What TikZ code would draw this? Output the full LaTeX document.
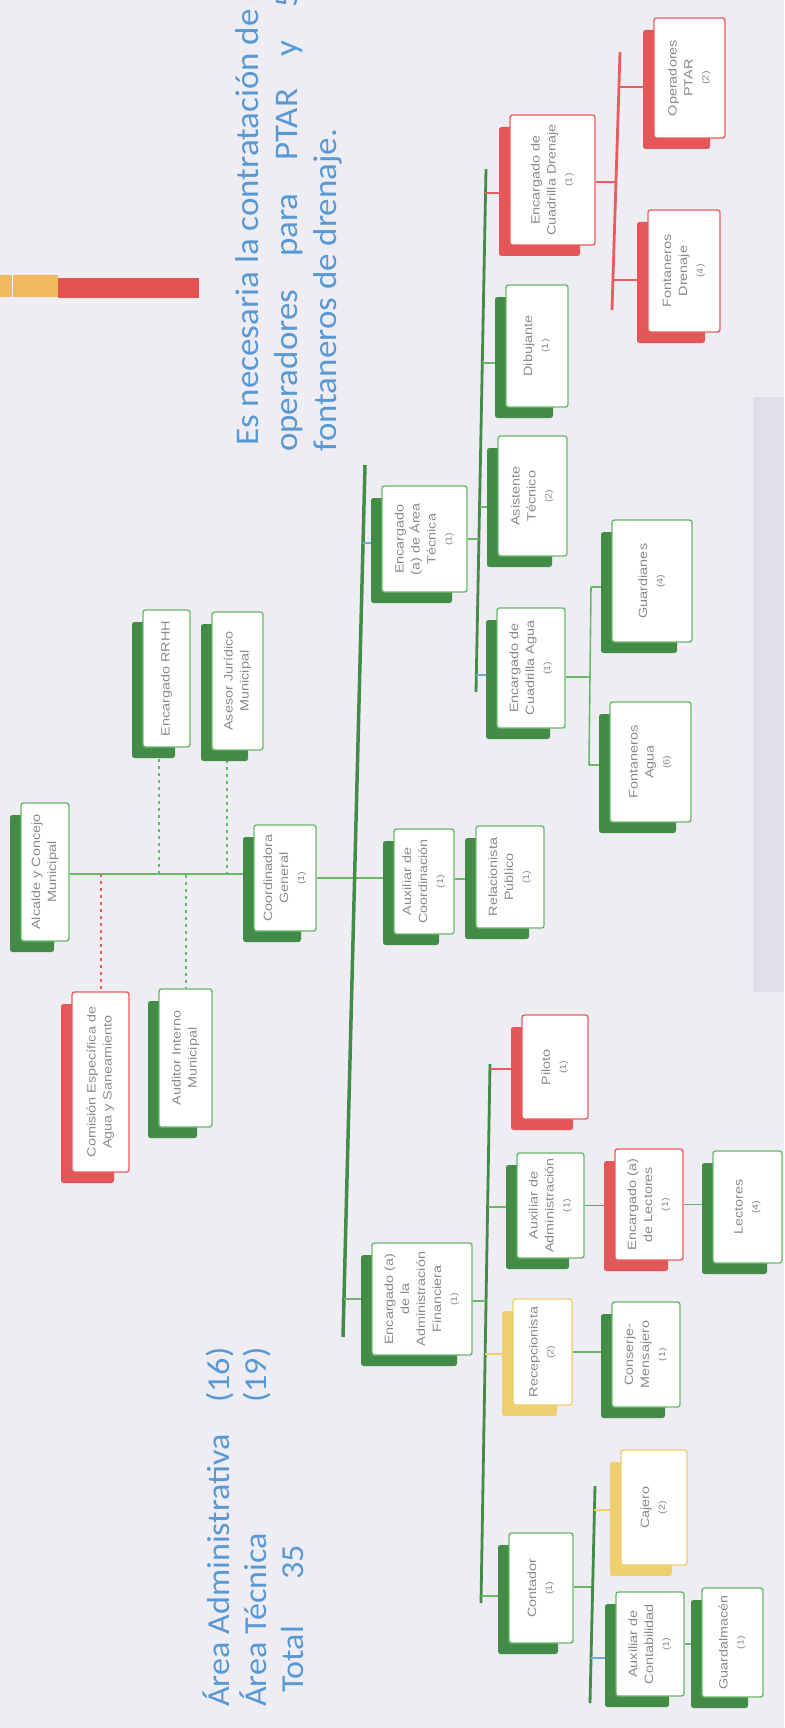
\documentclass[tikz,border=0pt]{standalone}
\usepackage{fontspec}
\setmainfont{Liberation Sans}
\newfontfamily\carl{Carlito}
\definecolor{bg}{RGB}{239,237,244}
\definecolor{gshadow}{RGB}{66,140,72}
\definecolor{gline}{RGB}{104,184,104}
\definecolor{rshadow}{RGB}{228,86,88}
\definecolor{rline}{RGB}{232,92,94}
\definecolor{yshadow}{RGB}{238,208,112}
\definecolor{yline}{RGB}{238,206,104}
\definecolor{txtgray}{RGB}{138,138,138}
\definecolor{bluetxt}{RGB}{88,152,212}
\definecolor{blink}{RGB}{110,170,220}
\definecolor{orangebar}{RGB}{240,186,96}
\definecolor{redbar}{RGB}{228,82,84}
\definecolor{grayband}{RGB}{224,223,231}
\pgfdeclarelayer{bottom}
\pgfdeclarelayer{lines}
\pgfsetlayers{bottom,lines,main}
\newlength\lw
\newcommand\rsa[1]{\scalebox{1.06}[1]{#1}}
\newcommand\rsb[1]{\scalebox{1.066}[1]{#1}}
\newcommand\bt[1]{\rotatebox{90}{\scalebox{1.2}[1]{\begin{tabular}{@{}c@{}}#1\end{tabular}}}}
\newcommand\nm[1]{{\fontsize{9}{12}\selectfont #1}}
\newcommand\obox[7]{%
  \fill[#6shadow, rounded corners=2.5pt] (#2-11,#3+12) rectangle (#4-15,#5+11);
  \node[front, draw=#6line, minimum width={(#4-#2)*1pt}, minimum height={(#5-#3)*1pt}]
    (#1) at ({(#2+#4)/2},{(#3+#5)/2}) {\bt{#7}};
}
\tikzset{
  front/.style={fill=white, rounded corners=2.5pt, line width=1.4pt, inner sep=0pt, text=txtgray, font=\fontsize{12}{16}\selectfont},
  mainln/.style={draw=gshadow, line width=3.5pt},
  subln/.style={draw=gshadow, line width=2.8pt},
  redln/.style={draw=rline, line width=2.8pt},
  glink/.style={draw=gline, line width=1.6pt},
  rlink/.style={draw=rline, line width=1.6pt},
  ylink/.style={draw=yline, line width=1.6pt},
  bllink/.style={draw=blink, line width=1.6pt},
  gdash/.style={draw=gline, line width=1.6pt, dash pattern=on 3pt off 4pt},
  rdash/.style={draw=rline, line width=1.6pt, dash pattern=on 3pt off 4pt},
  bluet/.style={rotate=90, inner sep=0pt, text=bluetxt, font=\carl\fontsize{33}{38}\selectfont},
  bluec/.style={rotate=90, inner sep=0pt, text=bluetxt, font=\carl\fontsize{32}{37}\selectfont}
}
\begin{document}
\begin{tikzpicture}[x=1pt,y=-1pt]
\useasboundingbox (0,0) rectangle (784,1728);
\begin{pgfonlayer}{bottom}
  \fill[bg] (0,0) rectangle (784,1728);
  \fill[grayband] (753,397) rectangle (784,992);
  \fill[orangebar] (0,275) rectangle (58,297);
  \fill[redbar] (58,278) rectangle (199,298);
  \draw[white, line width=1pt] (12,275) -- (12,297);
\end{pgfonlayer}

% boxes
\obox{alc}{21}{803}{69}{941}{g}{Alcalde y Concejo\\Municipal}
\obox{rrhh}{143}{610}{190}{747}{g}{Encargado RRHH}
\obox{ases}{212}{612}{263}{750}{g}{Asesor Jurídico\\Municipal}
\obox{com}{72}{992}{129}{1172}{r}{Comisión Específica de\\Agua y Saneamiento}
\obox{aud}{159}{989}{212}{1127}{g}{Auditor Interno\\Municipal}
\obox{coord}{254}{825}{316}{931}{g}{Coordinadora\\General\\\nm{(1)}}
\obox{auxc}{394}{829}{454}{934}{g}{Auxiliar de\\Coordinación\\\nm{(1)}}
\obox{rel}{476}{826}{544}{928}{g}{Relacionista\\Público\\\nm{(1)}}
\obox{tec}{382}{486}{467}{592}{g}{Encargado\\(a) de Área\\Técnica\\\nm{(1)}}
\obox{asis}{498}{436}{567}{556}{g}{Asistente\\Técnico\\\nm{(2)}}
\obox{agua}{497}{608}{565}{728}{g}{Encargado de\\Cuadrilla Agua\\\nm{(1)}}
\obox{guard}{612}{520}{692}{642}{g}{Guardianes\\\nm{(4)}}
\obox{fagua}{610}{702}{691}{822}{g}{Fontaneros\\Agua\\\nm{(6)}}
\obox{dib}{506}{285}{568}{407}{g}{Dibujante\\\nm{(1)}}
\obox{dren}{510}{115}{595}{245}{r}{Encargado de\\Cuadrilla Drenaje\\\nm{(1)}}
\obox{ptar}{654}{18}{725}{138}{r}{Operadores\\PTAR\\\nm{(2)}}
\obox{fdren}{648}{210}{720}{332}{r}{Fontaneros\\Drenaje\\\nm{(4)}}
\obox{fin}{372}{1243}{472}{1355}{g}{Encargado (a)\\de la\\Administración\\Financiera\\\nm{(1)}}
\obox{pil}{522}{1015}{588}{1119}{r}{Piloto\\\nm{(1)}}
\obox{auxa}{517}{1153}{584}{1258}{g}{Auxiliar de\\Administración\\\nm{(1)}}
\obox{lect1}{615}{1149}{683}{1260}{r}{Encargado (a)\\de Lectores\\\nm{(1)}}
\obox{lect}{713}{1151}{782}{1263}{g}{Lectores\\\nm{(4)}}
\obox{recep}{513}{1299}{572}{1405}{y}{Recepcionista\\\nm{(2)}}
\obox{cons}{612}{1302}{680}{1407}{g}{Conserje-\\Mensajero\\\nm{(1)}}
\obox{caj}{621}{1450}{687}{1565}{y}{Cajero\\\nm{(2)}}
\obox{cont}{509}{1533}{573}{1643}{g}{Contador\\\nm{(1)}}
\obox{auxcont}{616}{1592}{684}{1696}{g}{Auxiliar de\\Contabilidad\\\nm{(1)}}
\obox{galm}{702}{1588}{763}{1697}{g}{Guardalmacén\\\nm{(1)}}

% blue texts
\node[bluet, anchor=base west] (p1) at (258,446) {\rsa{Es necesaria la contratación de 4}};
\node[bluet, anchor=base west] (p2) at (297,452) {\rsa{\settowidth{\lw}{Es necesaria la contratación de 4}\hbox to \lw{operadores\hfill para\hfill PTAR\hfill y\hfill 5}}};
\node[bluet, anchor=base west] (p3) at (336,452) {\rsa{fontaneros de drenaje.}};

\node[bluec, anchor=base west] (s1) at (229,1707) {\rsb{Área Administrativa}};
\node[bluec, anchor=base west] (s1n) at (229,1403) {\rsb{(16)}};
\node[bluec, anchor=base west] (s2) at (266,1707) {\rsb{Área Técnica}};
\node[bluec, anchor=base west] (s2n) at (266,1403) {\rsb{(19)}};
\node[bluec, anchor=base west] (s3) at (303,1693) {\rsb{Total}};
\node[bluec, anchor=base west] (s3n) at (303,1580) {\rsb{35}};

\begin{pgfonlayer}{lines}
  % top level
  \coordinate (h0) at (69,874);
  \draw[glink] (alc.east |- h0) -- (h0 -| coord.west);
  \coordinate (d1) at (159,874); \draw[gdash] (d1) -- (d1 |- rrhh.south);
  \coordinate (d2) at (227,875); \draw[gdash] (d2) -- (d2 |- ases.south);
  \coordinate (d3) at (101,874); \draw[rdash] (d3) -- (d3 |- com.north);
  \coordinate (d4) at (186,875); \draw[gdash] (d4) -- (d4 |- aud.north);
  \coordinate (h1) at (316,878);
  \draw[glink] (coord.east |- h1) -- (h1 -| auxc.west);
  \coordinate (h2) at (454,879);
  \draw[glink] (auxc.east |- h2) -- (h2 -| rel.west);
  % main vertical
  \coordinate (mT) at (365,465); \coordinate (mB) at (343,1337);
  \draw[mainln] (mT) -- (mB);
  \coordinate (tTec) at (363,543); \draw[bllink] (tTec) -- (tTec -| tec.west);
  \coordinate (tFin) at (344,1299); \draw[glink] (tFin) -- (tFin -| fin.west);
  % area tecnica
  \coordinate (aT) at (486,169); \coordinate (aB) at (476,692);
  \draw[subln] (aT) -- (aB);
  \coordinate (aTec) at (479,539); \draw[glink] (tec.east |- aTec) -- (aTec);
  \coordinate (aDren) at (485,193); \draw[rlink] (aDren) -- (aDren -| dren.west);
  \coordinate (aDib) at (482,363); \draw[glink] (aDib) -- (aDib -| dib.west);
  \coordinate (aAsis) at (480,507); \draw[glink] (aAsis) -- (aAsis -| asis.west);
  \coordinate (aAgua) at (476,675); \draw[bllink] (aAgua) -- (aAgua -| agua.west);
  % drenaje
  \coordinate (rT) at (620,52); \coordinate (rB) at (612,310);
  \draw[redln] (rT) -- (rB);
  \coordinate (rD) at (616,182); \draw[rlink] (dren.east |- rD) -- (rD);
  \coordinate (rP) at (619,87); \draw[rlink] (rP) -- (rP -| ptar.west);
  \coordinate (rF) at (613,280); \draw[rlink] (rF) -- (rF -| fdren.west);
  % agua
  \coordinate (gA) at (590,677); \draw[glink] (agua.east |- gA) -- (gA);
  \coordinate (gT) at (591,587); \coordinate (gB) at (589,765);
  \draw[glink] (gT) -- (gB);
  \draw[glink] (gT) -- (gT -| guard.west);
  \draw[glink] (gB) -- (gB -| fagua.west);
  % administracion
  \coordinate (dT) at (490,1064); \coordinate (dB) at (481,1603);
  \draw[subln] (dT) -- (dB);
  \coordinate (dF) at (486,1301); \draw[glink] (fin.east |- dF) -- (dF);
  \coordinate (dPil) at (490,1069); \draw[rlink] (dPil) -- (dPil -| pil.west);
  \coordinate (dAux) at (488,1207); \draw[glink] (dAux) -- (dAux -| auxa.west);
  \coordinate (dRec) at (485,1354); \draw[ylink] (dRec) -- (dRec -| recep.west);
  \coordinate (dCon) at (481,1596); \draw[glink] (dCon) -- (dCon -| cont.west);
  \draw[rlink] (auxa.east) -- (auxa.east -| lect1.west);
  \draw[glink] (lect1.east) -- (lect1.east -| lect.west);
  \draw[glink] (recep.east) -- (recep.east -| cons.west);
  % contador
  \coordinate (c0) at (593,1587); \draw[glink] (cont.east |- c0) -- (c0);
  \coordinate (cT) at (595,1486); \coordinate (cB) at (590,1703);
  \draw[subln] (cT) -- (cB);
  \coordinate (cCaj) at (594,1510); \draw[ylink] (cCaj) -- (cCaj -| caj.west);
  \coordinate (cAux) at (591,1658); \draw[bllink] (cAux) -- (cAux -| auxcont.west);
  \draw[glink] (auxcont.east) -- (auxcont.east -| galm.west);
\end{pgfonlayer}
\end{tikzpicture}
\end{document}
